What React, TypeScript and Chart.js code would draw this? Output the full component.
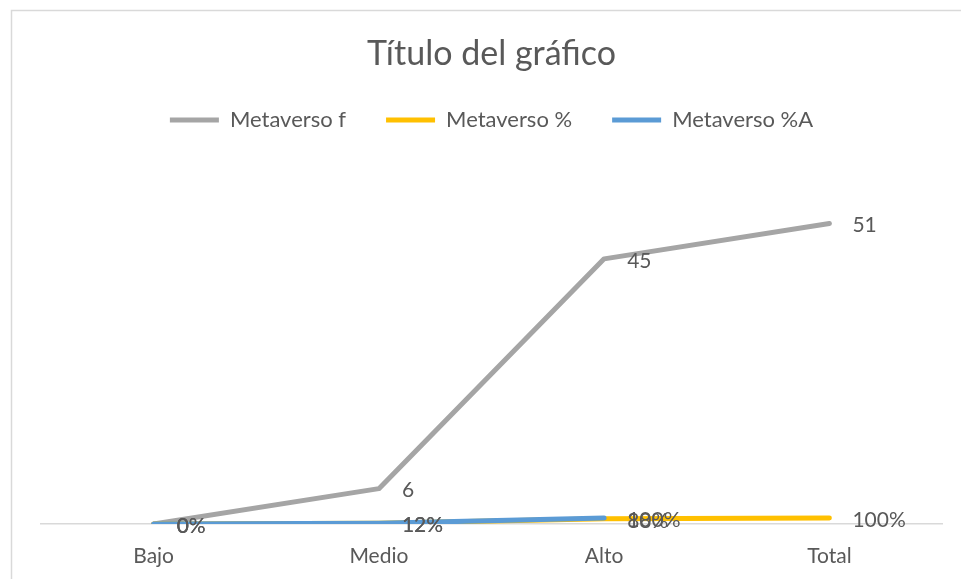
import React, { useEffect, useRef } from "react";
import { Chart, registerables } from "chart.js";

Chart.register(...registerables);

const categories = ["Bajo", "Medio", "Alto", "Total"];
const seriesNames = ["Metaverso f", "Metaverso %", "Metaverso %A"];
const metaversoF = [0, 6, 45, 51];
const metaversoPct = [0, 0.12, 0.88, 1.0];
const metaversoPctA = [0, 0.12, 1.0, null];
const colors = ["#A5A5A5", "#FFC000", "#5B9BD5"];

const FONT = "Lato";
const TEXT = "#595959";

const fmtInt = (v: number) => String(Math.round(v));
const fmtPct = (v: number) => Math.round(v * 100) + "%";

const dataLabelPlugin = {
  id: "dataLabels",
  afterDatasetsDraw(chart: any) {
    const ctx = chart.ctx;
    ctx.save();
    ctx.font = `21px ${FONT}`;
    ctx.fillStyle = TEXT;
    ctx.textAlign = "left";
    ctx.textBaseline = "middle";
    chart.data.datasets.forEach((ds: any, di: number) => {
      const meta = chart.getDatasetMeta(di);
      meta.data.forEach((pt: any, i: number) => {
        const v = ds.data[i];
        if (v === null || v === undefined) return;
        const txt = ds.fmt(v);
        ctx.fillText(txt, pt.x + 23, pt.y + 2);
      });
    });
    ctx.restore();
  },
};

const borderPlugin = {
  id: "outerBorder",
  beforeDraw(chart: any) {
    const ctx = chart.ctx;
    ctx.save();
    ctx.fillStyle = "#FFFFFF";
    ctx.fillRect(0, 0, chart.width, chart.height);
    ctx.strokeStyle = "#D9D9D9";
    ctx.lineWidth = 1.5;
    ctx.strokeRect(11.5, 10.5, 1200, 1200);
    ctx.restore();
  },
};

export default function App() {
  const ref = useRef<HTMLCanvasElement>(null);
  useEffect(() => {
    if (!ref.current) return;
    const series = [metaversoF, metaversoPct, metaversoPctA];
    const fmts = [fmtInt, fmtPct, fmtPct];
    const chart = new Chart(ref.current, {
      type: "line",
      data: {
        labels: categories,
        datasets: series.map((d, i) => ({
          label: seriesNames[i],
          data: d,
          borderColor: colors[i],
          backgroundColor: colors[i],
          borderWidth: 5,
          borderCapStyle: "round",
          borderJoinStyle: "round",
          pointRadius: 0,
          pointHoverRadius: 0,
          tension: 0,
          spanGaps: false,
          order: 2 - i,
          fmt: fmts[i],
        })) as any,
      },
      options: {
        responsive: false,
        animation: false,
        devicePixelRatio: 1,
        layout: { padding: { left: 41, right: 19, top: 0, bottom: 0 } },
        plugins: {
          title: {
            display: true,
            text: "Título del gráfico",
            color: TEXT,
            font: { family: FONT, size: 34, weight: "normal", lineHeight: 0.9 },
            padding: { top: 38.4, bottom: 0 },
          },
          legend: {
            display: true,
            position: "top",
            labels: {
              color: TEXT,
              font: { family: FONT, size: 22 },
              usePointStyle: true,
              pointStyle: "line",
              pointStyleWidth: 49,
              boxHeight: 22,
              padding: 40,
              sort: (a: any, b: any) => a.datasetIndex - b.datasetIndex,
            },
          },
          tooltip: { enabled: false },
        },
        scales: {
          x: {
            offset: true,
            grid: { display: false, drawTicks: false },
            border: { display: true, color: "#D9D9D9", width: 1.5 },
            ticks: {
              color: TEXT,
              font: { family: FONT, size: 21 },
              padding: 20,
            },
            afterFit: (scale: any) => {
              scale.height = 55;
            },
          },
          y: {
            display: false,
            min: 0,
            max: 65,
          },
        },
      },
      plugins: [borderPlugin, dataLabelPlugin],
    });
    return () => chart.destroy();
  }, []);
  return (
    <div style={{ position: "fixed", left: 0, top: 0, width: 961, height: 579, background: "#fff" }}>
      <canvas ref={ref} width={961} height={579} />
    </div>
  );
}
